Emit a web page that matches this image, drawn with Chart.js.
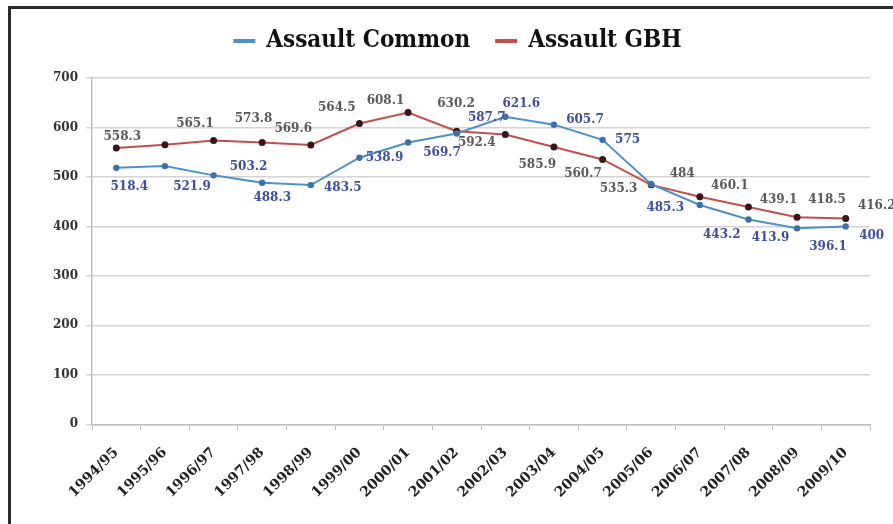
<!DOCTYPE html>
<html>
<head>
<meta charset="utf-8">
<script src="https://cdn.jsdelivr.net/npm/chart.js@4/dist/chart.umd.min.js"></script>
<style>
  html, body { margin: 0; padding: 0; background: #ffffff; }
  #wrap { position: relative; width: 893px; height: 524px; overflow: hidden; }
  #frame { position: absolute; left: 8px; top: 6px; width: 900px; height: 540px;
           border-left: 3px solid #2b2b2b; border-top: 3px solid #2b2b2b; box-sizing: border-box; }
  canvas { position: absolute; left: 0; top: 0; }
</style>
</head>
<body>
<div id="wrap">
  <div id="frame"></div>
  <canvas id="c" width="893" height="524"></canvas>
</div>
<script>
const categories = ['1994/95','1995/96','1996/97','1997/98','1998/99','1999/00','2000/01','2001/02',
                    '2002/03','2003/04','2004/05','2005/06','2006/07','2007/08','2008/09','2009/10'];
const assaultCommon = [518.4, 521.9, 503.2, 488.3, 483.5, 538.9, 569.7, 587.7,
                       621.6, 605.7, 575, 485.3, 443.2, 413.9, 396.1, 400];
const assaultGBH = [558.3, 565.1, 573.8, 569.6, 564.5, 608.1, 630.2, 592.4,
                    585.9, 560.7, 535.3, 484, 460.1, 439.1, 418.5, 416.2];
const yTicks = [0, 100, 200, 300, 400, 500, 600, 700];

// label offsets (style only): [dx, dy] from each point
const commonLabelOffsets = [[13,19],[27,21],[35,-8],[10,15],[32,3],[25,0],[34,10],[30,-16],
                            [16,-13],[31,-5],[25,0],[14,24],[22,30],[22,18],[31,19],[26,9]];
const gbhLabelOffsets = [[6,-11],[30,-21],[40,-22],[31,-14],[26,-37],[26,-23],[48,-9],[20,12],
                         [32,30],[29,27],[16,29],[31,-11],[30,-11],[30,-7],[30,-17],[31,-13]];

const serif = '"DejaVu Serif", "Liberation Serif", serif';

const labelPlugin = {
  id: 'pointLabels',
  afterDatasetsDraw(chart) {
    const ctx = chart.ctx;
    const cfgs = [
      { ds: 0, offs: commonLabelOffsets, color: '#3f4f9e' },
      { ds: 1, offs: gbhLabelOffsets, color: '#5a5a5a' }
    ];
    ctx.save();
    ctx.font = 'bold 12px ' + serif;
    ctx.textAlign = 'center';
    ctx.textBaseline = 'middle';
    cfgs.forEach(c => {
      const meta = chart.getDatasetMeta(c.ds);
      const vals = chart.data.datasets[c.ds].data;
      meta.data.forEach((pt, i) => {
        ctx.fillStyle = c.color;
        ctx.fillText(String(vals[i]), pt.x + c.offs[i][0], pt.y + c.offs[i][1]);
      });
    });
    ctx.restore();
  }
};

const legendTweak = {
  id: 'legendTweak',
  beforeInit(chart) {
    const lg = chart.legend;
    if (lg) {
      const orig = lg.fit;
      lg.fit = function () { orig.call(this); this.height = 75; };
    }
  },
  afterLayout(chart) {
    const lg = chart.legend;
    if (lg) { lg.left += 17; lg.right += 17; }
  }
};

new Chart(document.getElementById('c'), {
  type: 'line',
  data: {
    labels: categories,
    datasets: [
      { label: 'Assault Common', data: assaultCommon, borderColor: '#4d92c4', backgroundColor: '#4d92c4',
        borderWidth: 2, pointRadius: 2.2, pointBackgroundColor: '#3f6fa8', pointBorderColor: '#3f6fa8',
        tension: 0 },
      { label: 'Assault GBH', data: assaultGBH, borderColor: '#c0504d', backgroundColor: '#c0504d',
        borderWidth: 2, pointRadius: 2.5, pointBackgroundColor: '#3a1418', pointBorderColor: '#3a1418',
        tension: 0 }
    ]
  },
  options: {
    responsive: false,
    animation: false,
    layout: { padding: { left: 12, right: 23, top: 3, bottom: 0 } },
    plugins: {
      legend: {
        position: 'top',
        labels: {
          font: { family: '"DejaVu Serif Condensed", "DejaVu Serif", serif', size: 24, weight: 'bold' },
          color: '#111111',
          boxWidth: 20, boxHeight: 2,
          padding: 26
        }
      },
      tooltip: { enabled: false }
    },
    scales: {
      x: {
        offset: true,
        grid: { drawOnChartArea: false, drawTicks: true, tickLength: 6, color: '#bfbfbf', offset: true },
        border: { color: '#bfbfbf', width: 1.5 },
        ticks: { minRotation: 45, maxRotation: 45, autoSkip: false,
                 font: { family: serif, size: 14, weight: 'bold' }, color: '#222222', padding: 14 },
        afterFit(scale) { scale.height = 99.7; }
      },
      y: {
        min: 0, max: 700,
        afterBuildTicks(scale) { scale.ticks = yTicks.map(v => ({ value: v })); },
        grid: { color: '#d4d4d4', lineWidth: 1.5, tickLength: 6 },
        border: { color: '#bfbfbf', width: 1.5 },
        ticks: { font: { family: serif, size: 12, weight: 'bold' }, color: '#333333', padding: 8 },
        afterFit(scale) { scale.width = 80; }
      }
    }
  },
  plugins: [labelPlugin, legendTweak]
});
</script>
</body>
</html>
